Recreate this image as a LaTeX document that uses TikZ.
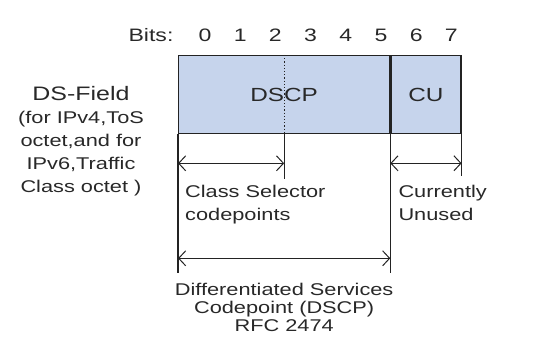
\documentclass[tikz,border=0pt]{standalone}
\usepackage{fontspec}
\setmainfont[FakeStretch=1.28]{Liberation Sans}
\usetikzlibrary{positioning,arrows.meta,calc}
\definecolor{dsblue}{RGB}{198,212,236}
\definecolor{dsline}{RGB}{35,35,35}
\definecolor{dstext}{RGB}{40,40,40}
\tikzset{
  field/.style={draw=dsline, line width=1.3pt, fill=dsblue, minimum height=78pt, inner sep=0pt, text=dstext, font=\fontsize{19}{21}\selectfont},
  bitnum/.style={inner sep=0pt, text=dstext, font=\fontsize{18}{20}\selectfont},
  lbl/.style={inner sep=0pt, text=dstext, font=\fontsize{17}{22.5}\selectfont},
  tick/.style={line width=1.3pt, dsline},
  span/.style={{Straight Barb[length=7pt,width=15pt]}-{Straight Barb[length=7pt,width=15pt]}, line width=1pt, dsline}
}
\begin{document}
\begin{tikzpicture}[x=1pt, y=-1pt]
  \useasboundingbox (0,0) rectangle (551,350);
  % bit numbers
  \node[bitnum, anchor=base] (bits) at (151,42) {Bits:};
  \foreach \b in {0,...,7}
    \node[bitnum, anchor=base] (b\b) at ({205+35.2*\b},42) {\b};
  % the DS field
  \node[field, minimum width=211pt, anchor=north west] (dscp) at (178,55) {DSCP};
  \node[field, minimum width=70pt, anchor=north west] (cu) at (dscp.north east) {CU};
  \draw[dotted, line width=1.2pt, dsline] (dscp.north) -- (dscp.south);
  \node[lbl, align=center, anchor=north, font=\fontsize{17}{23}\selectfont] (dsfield) at (81,86)
    {\fontsize{19.5}{23}\selectfont DS-Field\\\fontsize{17}{23}\selectfont (for IPv4,ToS\\octet,and for\\IPv6,Traffic\\Class octet )};
  % ticks below the field
  \coordinate (csend) at ($(dscp.south)+(0,45)$);
  \coordinate (cuend) at ($(cu.south east)+(0,42)$);
  \coordinate (lend) at ($(dscp.south west)+(0,139)$);
  \coordinate (rend) at ($(dscp.south east)+(0,139)$);
  \draw[tick] (dscp.south) -- (csend);
  \draw[tick] (cu.south east) -- (cuend);
  \draw[tick] (dscp.south west) -- (lend);
  \draw[tick] (dscp.south east) -- (rend);
  % spans
  \coordinate (csl) at ($(dscp.south west)+(0,29)$);
  \coordinate (csr) at ($(dscp.south)+(0,29)$);
  \coordinate (cul) at ($(cu.south west)+(0,29)$);
  \coordinate (cur) at ($(cu.south east)+(0,29)$);
  \coordinate (dsl) at ($(dscp.south west)+(0,124)$);
  \coordinate (dsr) at ($(dscp.south east)+(0,124)$);
  \draw[span] (csl) -- (csr);
  \draw[span] (cul) -- (cur);
  \draw[span] (dsl) -- (dsr);
  % descriptions
  \node[lbl, align=left, anchor=north west] (csdesc) at ($(dscp.south west)+(7,51)$) {Class Selector\\codepoints};
  \node[lbl, align=left, anchor=north west] (cudesc) at ($(cu.south west)+(8,51)$) {Currently\\Unused};
  \node[lbl, align=center, anchor=north, font=\fontsize{17}{17.8}\selectfont] (dsdesc) at ($(dscp.south)+(0,149)$)
    {Differentiated Services\\Codepoint (DSCP)\\RFC 2474};
\end{tikzpicture}
\end{document}
